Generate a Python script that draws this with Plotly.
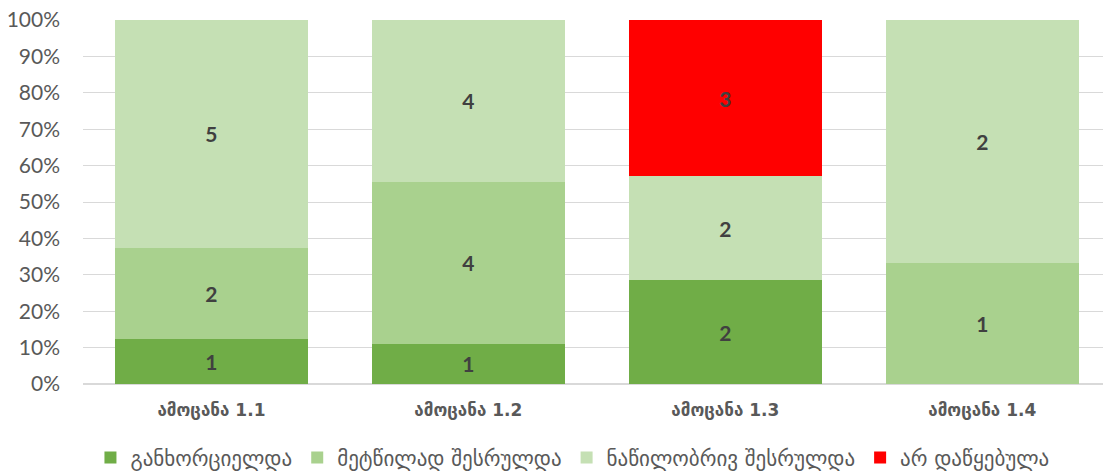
import plotly.graph_objects as go

categories = ["ამოცანა 1.1", "ამოცანა 1.2", "ამოცანა 1.3", "ამოცანა 1.4"]
series_names = ["განხორციელდა", "მეტწილად შესრულდა", "ნაწილობრივ შესრულდა", "არ დაწყებულა"]
implemented = [1, 1, 2, 0]
mostly_done = [2, 4, 0, 1]
partly_done = [5, 4, 2, 2]
not_started = [0, 0, 3, 0]
colors = ["#70AD47", "#A9D18E", "#C5E0B4", "#FF0000"]

series_values = [implemented, mostly_done, partly_done, not_started]

fig = go.Figure()
for name, vals, col in zip(series_names, series_values, colors):
    fig.add_trace(go.Bar(
        x=categories, y=vals, name=name, marker_color=col,
        marker_line_width=0,
        text=[str(v) if v else "" for v in vals],
        textposition="inside", insidetextanchor="middle",
        textfont=dict(family="Lato, DejaVu Sans", size=21, color="#404040", weight="bold"),
        hoverinfo="skip",
    ))

fig.update_layout(
    barmode="stack", barnorm="percent", bargap=0.25,
    width=1103, height=473,
    margin=dict(l=83, r=0, t=20, b=89),
    plot_bgcolor="white", paper_bgcolor="white",
    font=dict(family="Lato, DejaVu Sans", color="#595959", size=16),
    uniformtext=dict(mode="show", minsize=8),
    legend=dict(orientation="h", x=0.519, xanchor="center", xref="container",
                y=0.032, yanchor="middle", yref="container",
                font=dict(family="DejaVu Sans", size=21, color="#595959"),
                traceorder="normal", itemwidth=30, tracegroupgap=0),
)
fig.update_xaxes(range=[-0.5, 3.47], showgrid=False, showline=False, automargin=False,
                 tickfont=dict(family="DejaVu Sans", size=17, color="#595959", weight="bold"),
                 ticks="", ticklabelstandoff=14)
fig.update_yaxes(range=[0, 100], dtick=10, ticksuffix="%", showgrid=True, automargin=False,
                 gridcolor="#D9D9D9", gridwidth=1.3, zeroline=True, zerolinecolor="#D9D9D9",
                 tickfont=dict(family="Lato, DejaVu Sans", size=21, color="#595959"),
                 ticklabelstandoff=22)

fig.write_html("out.html", config={"displayModeBar": False},
               post_script="document.body.style.margin='0';")
